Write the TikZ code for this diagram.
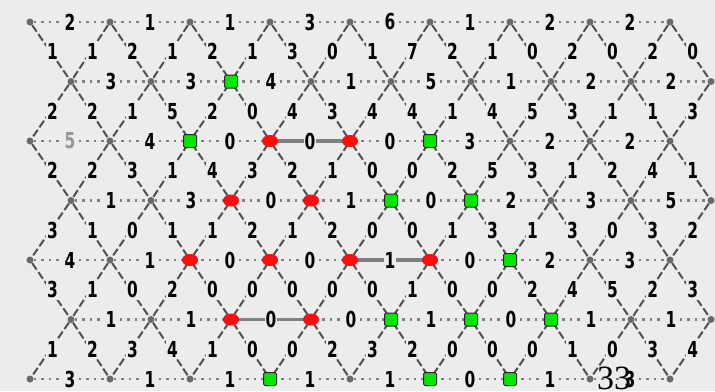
\documentclass[tikz,border=0pt]{standalone}
\usepackage{fontspec}
\setsansfont{DejaVu Sans}
\newfontfamily\numserif{Liberation Serif}
\usetikzlibrary{shapes.geometric}

\definecolor{sfondo}{RGB}{236,236,236}
\definecolor{grigiolinea}{RGB}{128,128,128}
\definecolor{grigiodiag}{RGB}{80,80,80}
\definecolor{grigionodo}{RGB}{105,105,105}
\definecolor{grigiochiaro}{RGB}{150,150,150}
\definecolor{verdone}{RGB}{0,232,0}
\definecolor{rossone}{RGB}{255,12,12}

\begin{document}
\begin{tikzpicture}[x=1pt, y=-1pt,
    vtx/.style={circle, fill=grigionodo, inner sep=0pt, minimum size=7pt},
    vrosso/.style={ellipse, fill=rossone, inner sep=0pt, minimum width=16pt, minimum height=12pt},
    vverde/.style={rectangle, fill=verdone, draw=black!85, line width=1pt, rounded corners=1.5pt, inner sep=0pt, minimum size=13pt},
    hdot/.style={grigiolinea, line width=2.5pt, dash pattern=on 2.5pt off 5pt},
    hthick/.style={grigiolinea, line width=3.5pt},
    dlink/.style={grigiodiag, line width=2pt, dash pattern=on 8pt off 3pt},
    num/.style={fill=sfondo, text=black, inner sep=1.5pt, xscale=0.7, font=\sffamily\bfseries\fontsize{22}{22}\selectfont}]

    \useasboundingbox (0,0) rectangle (715,391);
    \clip (0,0) rectangle (715,391);
    \fill[sfondo] (0,0) rectangle (715,391);

    % vertici
    \foreach \r in {0,...,6}{
        \foreach \k in {0,...,8}{
            \pgfmathsetmacro\xx{30+80*\k+41*mod(\r,2)}
            \node[vtx] (v-\r-\k) at (\xx, 22+59.5*\r) {};
        }
    }

    % lati spessi
    \draw[hthick] (v-2-3) -- (v-2-4);
    \draw[hthick] (v-4-4) -- (v-4-5);
    \draw[hthick] (v-5-2) -- (v-5-3);

    % lati orizzontali
    \foreach \r/\labs in {0/{2,1,1,3,6,1,2,2}, 1/{3,3,4,1,5,1,2,2},
            2/{{\color{grigiochiaro}5},4,0,0,0,3,2,2}, 3/{1,3,0,1,0,2,3,5},
            4/{4,1,0,0,1,0,2,3}, 5/{1,1,0,0,1,0,1,1}, 6/{3,1,1,1,1,0,1,3}}{
        \foreach \lab [count=\k from 0] in \labs{
            \pgfmathtruncatemacro\kk{\k+1}
            \draw[hdot] (v-\r-\k) -- node[num] {\lab} (v-\r-\kk);
        }
    }

    % lati diagonali
    \foreach \r/\labs in {0/{1,1,2,1,2,1,3,0,1,7,2,1,0,2,0,2,0},
            1/{2,2,1,5,2,0,4,3,4,4,1,4,5,3,1,1,3},
            2/{2,2,3,1,4,3,2,1,0,0,2,5,3,1,2,4,1},
            3/{3,1,0,1,1,2,1,2,0,0,1,3,1,3,0,3,2},
            4/{3,1,0,2,0,0,0,0,0,1,0,0,2,4,5,2,3},
            5/{1,2,3,4,1,0,0,2,3,2,0,0,0,1,0,3,4}}{
        \pgfmathtruncatemacro\rr{\r+1}
        \foreach \lab [count=\i from 0] in \labs{
            \pgfmathtruncatemacro\alto{(\i+1-mod(\r,2))/2}
            \pgfmathtruncatemacro\basso{(\i+mod(\r,2))/2}
            \draw[dlink] (v-\r-\alto) -- node[num, xshift=3pt] {\lab} (v-\rr-\basso);
        }
    }

    % vertici marcati
    \foreach \r/\k [count=\n] in {2/3,2/4,3/2,3/3,4/2,4/3,4/4,4/5,5/2,5/3}
        \node[vrosso] (rosso\n) at (v-\r-\k) {};
    \foreach \r/\k [count=\n] in {1/2,2/2,2/5,3/4,3/5,4/6,5/4,5/5,5/6,6/3,6/5,6/6}
        \node[vverde] (verde\n) at (v-\r-\k) {};

    \node[anchor=north west, inner sep=0pt, font=\numserif\fontsize{34}{34}\selectfont] (pagina) at (597,367) {33};

\end{tikzpicture}
\end{document}
